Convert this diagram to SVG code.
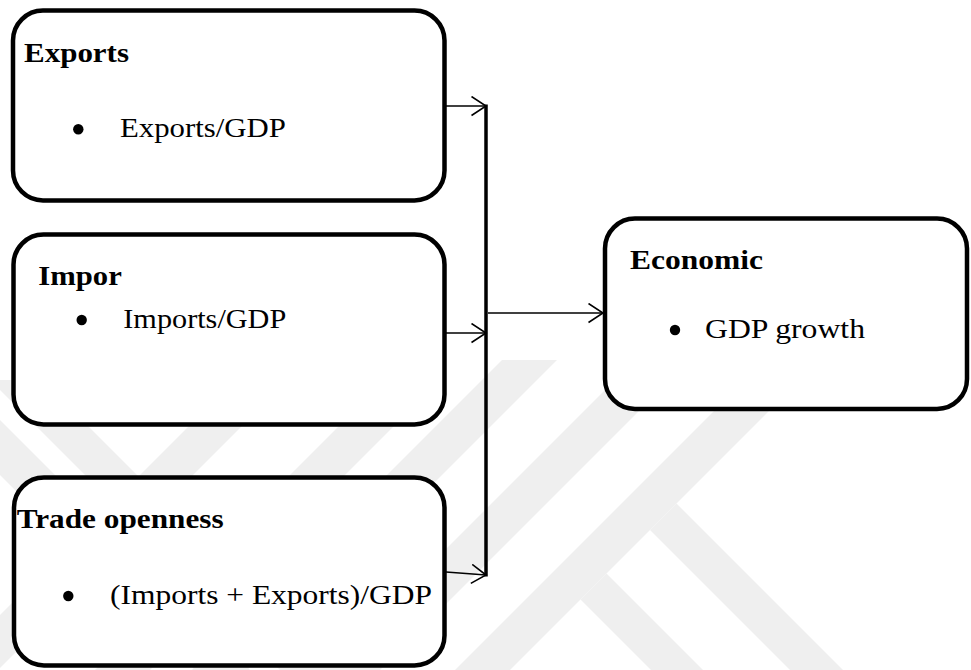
<svg xmlns="http://www.w3.org/2000/svg" width="971" height="670" viewBox="0 0 971 670">
  <style>
    .wm { fill: #efefef; stroke: none; }
    .box { fill: #ffffff; stroke: #000000; stroke-width: 4.5; }
    .title { font-family: "Liberation Serif", "Times New Roman", serif; font-size: 28px; font-weight: bold; fill: #000000; }
    .item { font-family: "Liberation Serif", "Times New Roman", serif; font-size: 28px; fill: #000000; }
    .bullet { fill: #000000; }
    .conn { fill: none; stroke: #000000; stroke-width: 1.5; }
    .bus { fill: none; stroke: #000000; stroke-width: 3.5; }
  </style>
  <defs>
    <marker id="arrow" markerUnits="userSpaceOnUse" markerWidth="18" markerHeight="22" refX="15" refY="10" orient="auto">
      <path d="M0.5,0.5 L15,10 L0.5,19.5" fill="none" stroke="#000000" stroke-width="1.6"/>
    </marker>
  </defs>
  <rect width="971" height="670" fill="#ffffff"/>
  <g id="watermark">
    <polygon class="wm" points="455,670 510,670 880,300 825,300"/>
    <polygon class="wm" points="325,670 380,670 720,330 665,330"/>
    <polygon class="wm" points="502,360 557,360 247,670 192,670"/>
    <polygon class="wm" points="676.5,503.5 843,670 790,670 650,530"/>
    <polygon class="wm" points="606.5,573.5 703,670 651,670 580.5,599.5"/>
    <polygon class="wm" points="-10,380 42,380 332,670 280,670"/>
    <polygon class="wm" points="-75,400 -20,400 250,670 195,670"/>
    <polygon class="wm" points="235,380 288,380 -2,670 -55,670"/>
    <polygon class="wm" points="385,380 440,380 150,670 95,670"/>
  </g>
  <g id="exports">
    <rect class="box" x="13" y="10.5" width="431.5" height="190" rx="30" ry="30"/>
    <text class="title" x="24" y="61.5" textLength="105" lengthAdjust="spacingAndGlyphs">Exports</text>
    <circle class="bullet" cx="78.3" cy="129.3" r="5.2"/>
    <text class="item" x="120" y="136.7" textLength="166" lengthAdjust="spacingAndGlyphs">Exports/GDP</text>
  </g>
  <g id="imports">
    <rect class="box" x="13.5" y="234.5" width="431" height="190" rx="30" ry="30"/>
    <text class="title" x="38.3" y="285" textLength="83.5" lengthAdjust="spacingAndGlyphs">Impor</text>
    <circle class="bullet" cx="81.7" cy="320" r="5.2"/>
    <text class="item" x="123.3" y="328.3" textLength="163" lengthAdjust="spacingAndGlyphs">Imports/GDP</text>
  </g>
  <g id="trade">
    <rect class="box" x="14" y="477.5" width="430.5" height="188" rx="30" ry="30"/>
    <text class="title" x="16.7" y="528.3" textLength="207" lengthAdjust="spacingAndGlyphs">Trade openness</text>
    <circle class="bullet" cx="68.3" cy="596" r="5.2"/>
    <text class="item" x="110" y="604" textLength="322" lengthAdjust="spacingAndGlyphs">(Imports + Exports)/GDP</text>
  </g>
  <g id="economic">
    <rect class="box" x="605" y="218.5" width="362" height="190.5" rx="30" ry="30"/>
    <text class="title" x="630" y="269.3" textLength="133" lengthAdjust="spacingAndGlyphs">Economic</text>
    <circle class="bullet" cx="675" cy="330" r="5.2"/>
    <text class="item" x="705" y="338.3" textLength="160" lengthAdjust="spacingAndGlyphs">GDP growth</text>
  </g>
  <g id="connectors">
    <line class="bus" x1="486" y1="104.5" x2="486" y2="576.5"/>
    <line class="conn" x1="446" y1="106" x2="486" y2="106" marker-end="url(#arrow)"/>
    <line class="conn" x1="446" y1="333" x2="486" y2="333" marker-end="url(#arrow)"/>
    <line class="conn" x1="446" y1="572" x2="486" y2="575" marker-end="url(#arrow)"/>
    <line class="conn" x1="488" y1="313" x2="603" y2="313" marker-end="url(#arrow)"/>
  </g>
</svg>
